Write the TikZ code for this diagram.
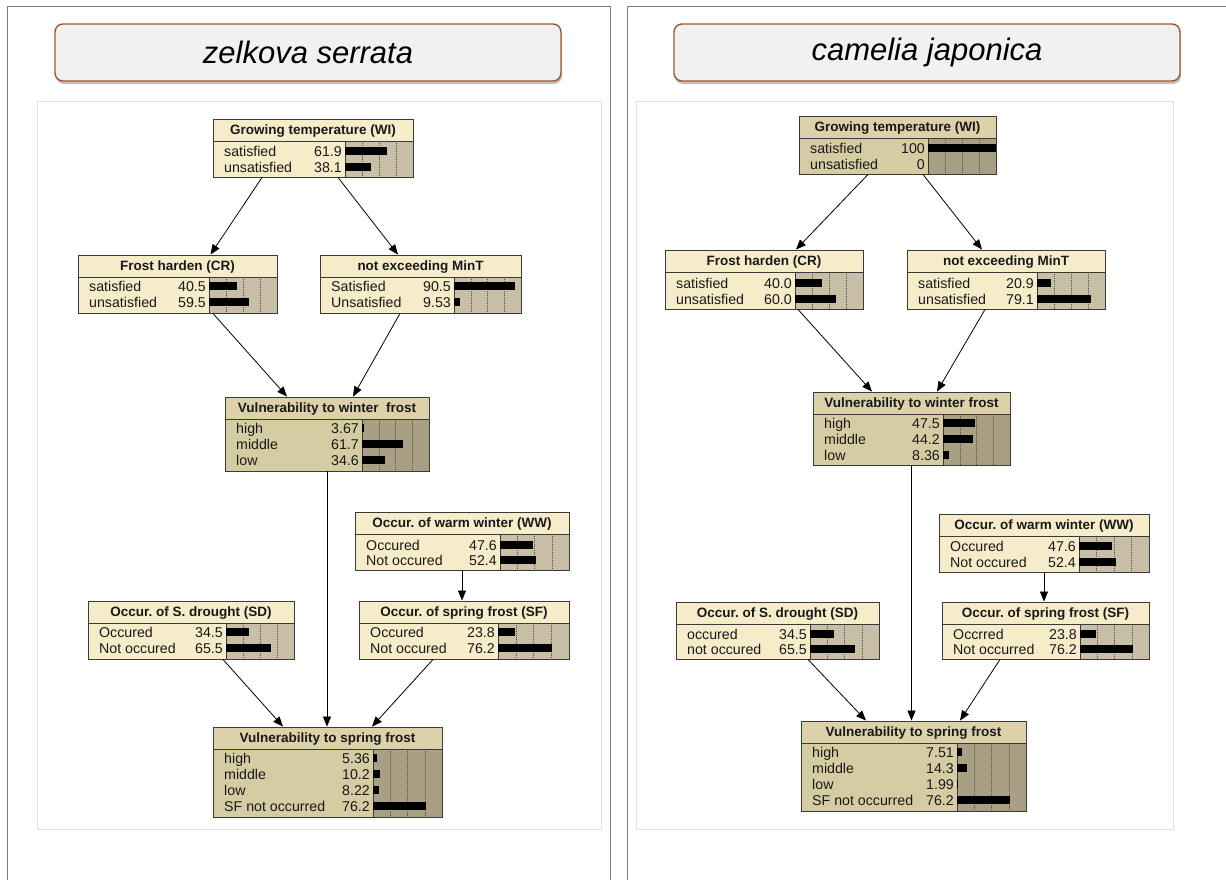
\documentclass[tikz,border=0pt]{standalone}
\usepackage{fontspec}
\setmainfont{Liberation Sans}
\usetikzlibrary{arrows.meta,shadows,calc}
\frenchspacing
\definecolor{lhd}{HTML}{F6ECCA}
\definecolor{lbd}{HTML}{F6ECCA}
\definecolor{lbr}{HTML}{C9BFA6}
\definecolor{dhd}{HTML}{DCD1A9}
\definecolor{dbd}{HTML}{D6CCA3}
\definecolor{dbr}{HTML}{A89F85}
\definecolor{nodeborder}{HTML}{3A3A3A}
\definecolor{titleborder}{HTML}{A0582A}
\definecolor{titlefill}{HTML}{F1F1F1}
\tikzset{
  bnode/.style={draw=nodeborder, line width=0.9pt, inner sep=0pt, fill=none},
  hdtext/.style={anchor=base, inner sep=0pt, font=\fontsize{13.5}{15}\selectfont\bfseries, text=black!90},
  rowtext/.style={inner sep=0pt, font=\fontsize{14.2}{15}\selectfont, text=black!90},
  gridline/.style={draw=black!70, line width=0.5pt, dash pattern=on 1pt off 1pt},
  nodeline/.style={draw=nodeborder, line width=0.8pt},
  conn/.style={draw=black, line width=0.8pt, -{Triangle[length=10pt,width=8pt]}},
  titlebox/.style={draw=titleborder, line width=1.4pt, fill=titlefill, rounded corners=8pt,
     drop shadow={shadow xshift=1pt, shadow yshift=-3pt, opacity=0.35, fill=black!70},
     minimum width=506pt, minimum height=57pt, inner sep=0pt,
     font=\fontsize{31}{36}\selectfont\itshape},
  frameline/.style={draw=black!50, line width=1pt},
  panelline/.style={draw=black!12, line width=0.8pt, fill=white}
}
% \bbox{name}{x1}{ytop}{x2}{ybottom}{yheader}{xbar}{title}{l|d}
\newcommand{\bbox}[9]{%
  \fill[#9hd] (#2,#3) rectangle (#4,#6);
  \fill[#9bd] (#2,#6) rectangle (#7,#5);
  \fill[#9br] (#7,#6) rectangle (#4,#5);
  \foreach \f in {0.25,0.5,0.75}{\draw[gridline] ({#7+\f*(#4-#7)},#6) -- ({#7+\f*(#4-#7)},#5);}
  \draw[nodeline] (#2,#6) -- (#4,#6) (#7,#6) -- (#7,#5);
  \node[bnode, minimum width={(#4-#2)*1pt}, minimum height={(#5-#3)*1pt}] (#1) at ({(#2+#4)/2},{(#3+#5)/2}) {};
  \node[hdtext] at ({(#2+#4)/2},{(#3+#6)/2+4.8}) {#8};
}
% \brow{x1}{xbar}{x2}{y}{label}{value}{pct}
\newcommand{\brow}[7]{%
  \node[rowtext, anchor=base west] at ({#1+11},{#4+5}) {#5};
  \node[rowtext, anchor=base east] at ({#2-3},{#4+5}) {#6};
  \fill[black] (#2,{#4-3.8}) rectangle ({#2+#7/100*(#3-#2)},{#4+3.8});
}
\begin{document}
\begin{tikzpicture}[x=1pt,y=-1pt]
\useasboundingbox (0,0) rectangle (1226,879);
\fill[white] (0,0) rectangle (1226,879);
\begin{scope}
  \clip (0,0) rectangle (1226,879);
  \draw[frameline] (7,6) rectangle (610,895);
  \draw[frameline] (627,6) rectangle (1245,895);
\end{scope}
% title boxes
\node[titlebox] (titleL) at (308,52.5) {zelkova serrata};
\node[titlebox] (titleR) at (927,52.5) {camelia japonica};
% inner panels
\draw[panelline] (37,101) rectangle (601,829);
\draw[panelline] (636,101) rectangle (1173,829);

% ===== left panel =====
\bbox{gtL}{213}{119}{413}{177}{141}{345}{Growing temperature (WI)}{l}
\brow{213}{345}{413}{151}{satisfied}{61.9}{61.9}
\brow{213}{345}{413}{167}{unsatisfied}{38.1}{38.1}

\bbox{frL}{78}{255}{277}{313}{277}{209}{Frost harden (CR)}{l}
\brow{78}{209}{277}{286}{satisfied}{40.5}{40.5}
\brow{78}{209}{277}{302}{unsatisfied}{59.5}{59.5}

\bbox{nemL}{320}{255}{521}{313}{277}{454}{not exceeding MinT}{l}
\brow{320}{454}{521}{286}{Satisfied}{90.5}{90.5}
\brow{320}{454}{521}{302}{Unsatisfied}{9.53}{9.53}

\bbox{vwfL}{225}{397}{429}{471}{419}{362}{Vulnerability to winter\ \ frost}{d}
\brow{225}{362}{429}{428}{high}{3.67}{3.67}
\brow{225}{362}{429}{444}{middle}{61.7}{61.7}
\brow{225}{362}{429}{460}{low}{34.6}{34.6}

\bbox{wwL}{355}{512}{569}{570}{534}{500}{Occur. of warm winter (WW)}{l}
\brow{355}{500}{569}{545}{Occured}{47.6}{47.6}
\brow{355}{500}{569}{560}{Not occured}{52.4}{52.4}

\bbox{sfL}{359}{601}{569}{659}{623}{498}{Occur. of spring frost (SF)}{l}
\brow{359}{498}{569}{632}{Occured}{23.8}{23.8}
\brow{359}{498}{569}{648}{Not occured}{76.2}{76.2}

\bbox{sdL}{88}{601}{294}{659}{623}{226}{Occur. of S. drought (SD)}{l}
\brow{88}{226}{294}{632}{Occured}{34.5}{34.5}
\brow{88}{226}{294}{648}{Not occured}{65.5}{65.5}

\bbox{vsfL}{213}{727}{442}{817}{749}{373}{Vulnerability to spring frost}{d}
\brow{213}{373}{442}{758}{high}{5.36}{5.36}
\brow{213}{373}{442}{774}{middle}{10.2}{10.2}
\brow{213}{373}{442}{790}{low}{8.22}{8.22}
\brow{213}{373}{442}{806}{SF not occurred}{76.2}{76.2}

\draw[conn] ([xshift=-51pt]gtL.south) -- ([xshift=33pt]frL.north);
\draw[conn] ([xshift=25pt]gtL.south) -- ([xshift=-22.5pt]nemL.north);
\draw[conn] ([xshift=35.5pt]frL.south) -- ([xshift=-40pt]vwfL.north);
\draw[conn] ([xshift=-20.5pt]nemL.south) -- ([xshift=26pt]vwfL.north);
\draw[conn] (vwfL.south) -- (vwfL.south |- vsfL.north);
\draw[conn] (wwL.south) -- (wwL.south |- sfL.north);
\draw[conn] ([xshift=32pt]sdL.south) -- ([xshift=-44.5pt]vsfL.north);
\draw[conn] ([xshift=-31pt]sfL.south) -- ([xshift=44.5pt]vsfL.north);

% ===== right panel =====
\bbox{gtR}{799}{116}{996}{174}{138}{928}{Growing temperature (WI)}{d}
\brow{799}{928}{996}{148}{satisfied}{100}{100}
\brow{799}{928}{996}{164}{unsatisfied}{0}{0}

\bbox{frR}{665}{250}{863}{309}{272}{795}{Frost harden (CR)}{l}
\brow{665}{795}{863}{283}{satisfied}{40.0}{40.0}
\brow{665}{795}{863}{299}{unsatisfied}{60.0}{60.0}

\bbox{nemR}{907}{250}{1105}{309}{272}{1037}{not exceeding MinT}{l}
\brow{907}{1037}{1105}{283}{satisfied}{20.9}{20.9}
\brow{907}{1037}{1105}{299}{unsatisfied}{79.1}{79.1}

\bbox{vwfR}{813}{392}{1010}{465}{414}{943}{Vulnerability to winter frost}{d}
\brow{813}{943}{1010}{423}{high}{47.5}{47.5}
\brow{813}{943}{1010}{439}{middle}{44.2}{44.2}
\brow{813}{943}{1010}{455}{low}{8.36}{8.36}

\bbox{wwR}{939}{514}{1149}{572}{536}{1079}{Occur. of warm winter (WW)}{l}
\brow{939}{1079}{1149}{546}{Occured}{47.6}{47.6}
\brow{939}{1079}{1149}{562}{Not occured}{52.4}{52.4}

\bbox{sfR}{942}{602}{1149}{659}{624}{1080}{Occur. of spring frost (SF)}{l}
\brow{942}{1080}{1149}{634}{Occrred}{23.8}{23.8}
\brow{942}{1080}{1149}{649}{Not occurred}{76.2}{76.2}

\bbox{sdR}{676}{602}{879}{659}{624}{810}{Occur. of S. drought (SD)}{l}
\brow{676}{810}{879}{634}{occured}{34.5}{34.5}
\brow{676}{810}{879}{649}{not occured}{65.5}{65.5}

\bbox{vsfR}{801}{721}{1026}{811}{743}{957}{Vulnerability to spring frost}{d}
\brow{801}{957}{1026}{752}{high}{7.51}{7.51}
\brow{801}{957}{1026}{768}{middle}{14.3}{14.3}
\brow{801}{957}{1026}{784}{low}{1.99}{1.99}
\brow{801}{957}{1026}{800}{SF not occurred}{76.2}{76.2}

\draw[conn] ([xshift=-29.5pt]gtR.south) -- ([xshift=32pt]frR.north);
\draw[conn] ([xshift=25.5pt]gtR.south) -- ([xshift=-24pt]nemR.north);
\draw[conn] ([xshift=34pt]frR.south) -- ([xshift=-39.5pt]vwfR.north);
\draw[conn] ([xshift=-21pt]nemR.south) -- ([xshift=25.5pt]vwfR.north);
\draw[conn] (vwfR.south) -- (vwfR.south |- vsfR.north);
\draw[conn] (wwR.south) -- (wwR.south |- sfR.north);
\draw[conn] ([xshift=30.5pt]sdR.south) -- ([xshift=-47.5pt]vsfR.north);
\draw[conn] ([xshift=-45.5pt]sfR.south) -- ([xshift=46.5pt]vsfR.north);
\end{tikzpicture}
\end{document}
